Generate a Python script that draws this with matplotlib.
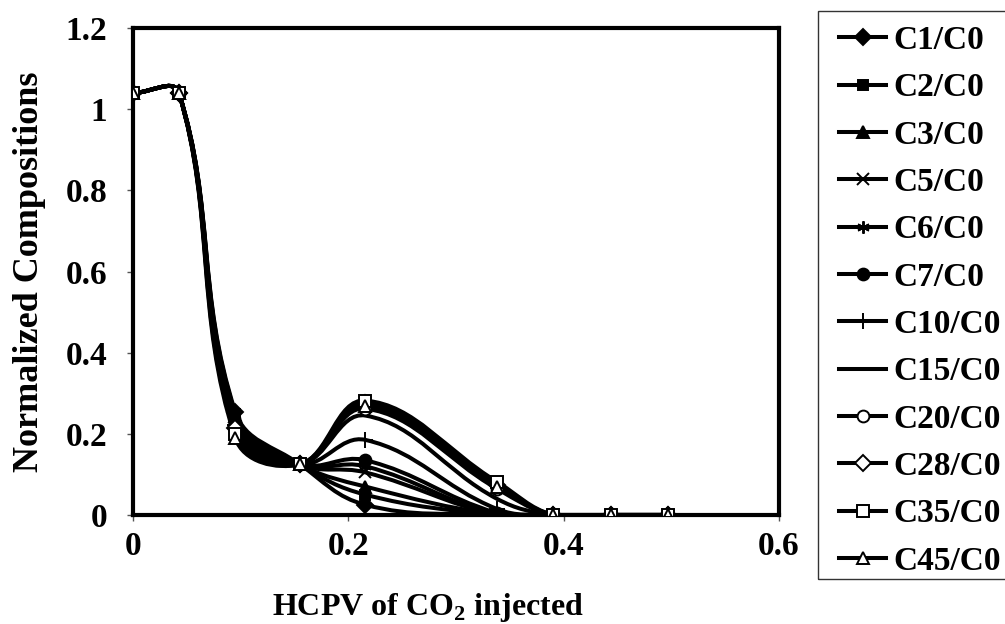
import matplotlib
matplotlib.use('Agg')
import matplotlib.pyplot as plt
import numpy as np
from matplotlib.path import Path
from matplotlib.patches import PathPatch, Rectangle
from matplotlib.lines import Line2D

plt.rcParams['font.family'] = 'Liberation Serif'
plt.rcParams['font.weight'] = 'bold'
plt.rcParams['mathtext.fontset'] = 'custom'
plt.rcParams['mathtext.rm'] = 'Liberation Serif:bold'
plt.rcParams['mathtext.bf'] = 'Liberation Serif:bold'

# HCPV of CO2 injected
hcpv = [0.0, 0.0427, 0.095, 0.155, 0.216, 0.338, 0.39, 0.444, 0.497]

labels = ['C1/C0', 'C2/C0', 'C3/C0', 'C5/C0', 'C6/C0', 'C7/C0',
          'C10/C0', 'C15/C0', 'C20/C0', 'C28/C0', 'C35/C0', 'C45/C0']

c1 = [1.04, 1.04, 0.255, 0.125, 0.025, 0.0, 0.0, 0.0, 0.0]
c2 = [1.04, 1.04, 0.250, 0.125, 0.050, 0.0, 0.0, 0.0, 0.0]
c3 = [1.04, 1.04, 0.245, 0.125, 0.070, 0.0, 0.0, 0.0, 0.0]
c5 = [1.04, 1.04, 0.240, 0.125, 0.105, 0.0, 0.0, 0.0, 0.0]
c6 = [1.04, 1.04, 0.235, 0.125, 0.120, 0.0, 0.0, 0.0, 0.0]
c7 = [1.04, 1.04, 0.230, 0.125, 0.135, 0.005, 0.0, 0.0, 0.0]
c10 = [1.04, 1.04, 0.222, 0.125, 0.185, 0.015, 0.0, 0.0, 0.0]
c15 = [1.04, 1.04, 0.215, 0.125, 0.245, 0.040, 0.0, 0.0, 0.0]
c20 = [1.04, 1.04, 0.210, 0.125, 0.262, 0.065, 0.0, 0.0, 0.0]
c28 = [1.04, 1.04, 0.215, 0.125, 0.275, 0.075, 0.0, 0.0, 0.0]
c35 = [1.04, 1.04, 0.200, 0.125, 0.282, 0.082, 0.0, 0.0, 0.0]
c45 = [1.04, 1.04, 0.190, 0.125, 0.268, 0.070, 0.0, 0.0, 0.0]
series = [c1, c2, c3, c5, c6, c7, c10, c15, c20, c28, c35, c45]

markers = ['D', 's', '^', 'x', (6, 2, 0), 'o', '+', '_', 'o', 'D', 's', '^']
filled = [True, True, True, True, True, True, True, True, False, False, False, False]
msizes = [8, 7.5, 8.5, 8, 9, 8.5, 11, 1, 8.5, 8, 8.5, 8.5]


def smooth_path(x, y, sx=1077.0, sy=405.0, k=0.6):
    # excel-like smoothed line: cubic bezier through the points
    p = np.column_stack([np.asarray(x) * sx, np.asarray(y) * sy])
    n = len(p)
    verts = [p[0]]
    codes = [Path.MOVETO]
    for i in range(n - 1):
        a, b = p[i], p[i + 1]
        pa = p[i - 1] if i > 0 else a
        nb = p[i + 2] if i + 2 < n else b
        d_prev = np.hypot(*(a - pa))
        d_cur = np.hypot(*(b - a))
        d_next = np.hypot(*(nb - b))
        w1 = d_cur / (d_prev + d_cur) if d_prev + d_cur > 0 else 0
        w2 = d_cur / (d_cur + d_next) if d_cur + d_next > 0 else 0
        ca = a + k * (b - pa) * w1 * (2.0 / 3.0)
        cb = b - k * (nb - a) * w2 * (2.0 / 3.0)
        verts += [ca, cb, b]
        codes += [Path.CURVE4] * 3
    verts = np.array(verts) / [sx, sy]
    return Path(verts, codes)


fig = plt.figure(figsize=(10.05, 6.24), dpi=100)
ax = fig.add_axes([0.1323, 0.1747, 0.775 - 0.1323, 0.955 - 0.1747])

handles = []
for s, m, f, ms, lab in zip(series, markers, filled, msizes, labels):
    ax.add_patch(PathPatch(smooth_path(hcpv, s), facecolor='none',
                           edgecolor='black', lw=2.9, zorder=2))
    fc = 'black' if f else 'white'
    ax.plot(hcpv, s, linestyle='none', marker=m, ms=ms, mfc=fc, mec='black',
            mew=1.4, zorder=3)
    handles.append(Line2D([0], [0], color='black', lw=2.9, marker=m, ms=ms,
                          mfc=fc, mec='black', mew=1.4, label=lab))

ax.set_xlim(0, 0.6)
ax.set_ylim(0, 1.2)
ax.set_xticks([0, 0.2, 0.4, 0.6])
ax.set_xticklabels(['0', '0.2', '0.4', '0.6'])
ax.set_yticks([0, 0.2, 0.4, 0.6, 0.8, 1.0, 1.2])
ax.set_yticklabels(['0', '0.2', '0.4', '0.6', '0.8', '1', '1.2'])
ax.tick_params(labelsize=24, length=4.5, width=1, color='#555555')
ax.tick_params(axis='x', pad=7)
ax.tick_params(axis='y', pad=14)
for sp in ax.spines.values():
    sp.set_linewidth(3)

ax.set_xlabel(r'HCPV of CO$_{\mathbf{2}}$ injected', fontsize=23, fontweight='bold')
ax.xaxis.set_label_coords(0.457, -0.157)
ax.set_ylabel('Normalized Compositions', fontsize=26, fontweight='bold')
ax.yaxis.set_label_coords(-0.134, 0.5)

# legend box runs off the top/right like the original
fig.patches.append(Rectangle((818 / 1005, 1 - 579 / 624), 0.3, 579 / 624 - 12 / 624 + 0.001,
                             transform=fig.transFigure, fill=False,
                             edgecolor='#333333', lw=1.0))
leg = fig.legend(handles=handles, loc='upper left',
                 bbox_to_anchor=(839 / 1005, 1 - 25 / 624),
                 fontsize=24, frameon=False,
                 handlelength=1.41, handletextpad=0.21, labelspacing=0.49,
                 borderpad=0, borderaxespad=0)

fig.savefig('out.png', dpi=100)
